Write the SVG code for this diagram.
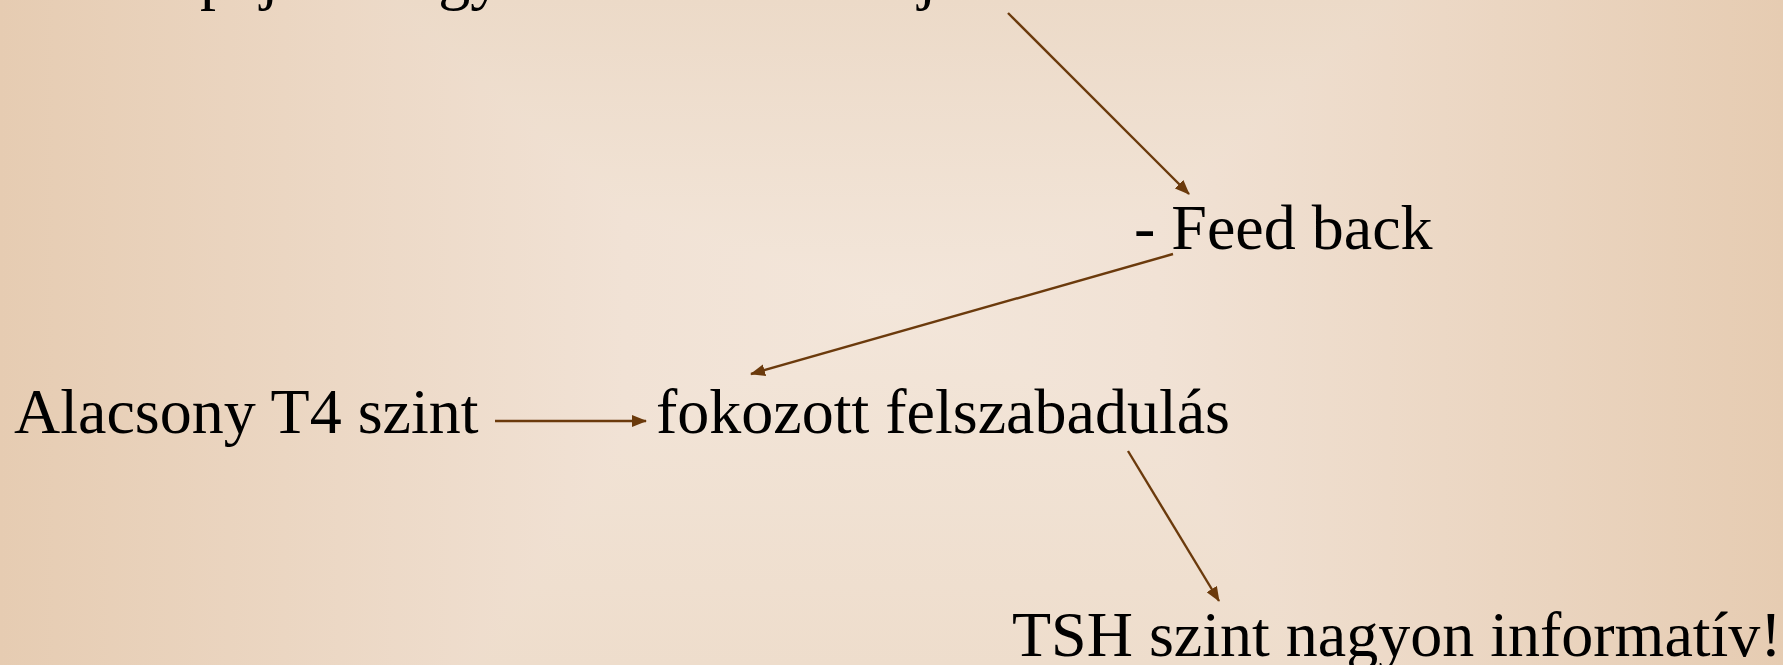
<svg xmlns="http://www.w3.org/2000/svg" width="1783" height="665" viewBox="0 0 1783 665">
  <style>
    .lbl { font-family: "Liberation Serif", "Times New Roman", serif; font-size: 64px; fill: #000; }
    .conn { stroke: #6B3A0C; stroke-width: 2.4; fill: none; marker-end: url(#arrow); }
  </style>
  <defs>
    <linearGradient id="bgH" x1="0" y1="0" x2="1" y2="0">
      <stop offset="0" stop-color="#E6CCB2"/>
      <stop offset="0.35" stop-color="#F1E2D5"/>
      <stop offset="0.5" stop-color="#F3E6DA"/>
      <stop offset="0.65" stop-color="#F1E2D5"/>
      <stop offset="1" stop-color="#E6CCB2"/>
    </linearGradient>
    <linearGradient id="bgV" x1="0" y1="0" x2="0" y2="1">
      <stop offset="0" stop-color="#ECDAC8"/>
      <stop offset="0.45" stop-color="#F3E6DA"/>
      <stop offset="1" stop-color="#EEDDCC"/>
    </linearGradient>
    <marker id="arrow" viewBox="0 0 15 12" refX="14" refY="6" markerWidth="15" markerHeight="12" markerUnits="userSpaceOnUse" orient="auto">
      <path d="M0,0 L15,6 L0,12 z" fill="#6B3A0C"/>
    </marker>
  </defs>

  <!-- background -->
  <rect width="1783" height="665" fill="url(#bgH)"/>
  <rect width="1783" height="665" fill="url(#bgV)" style="mix-blend-mode: darken"/>

  <g id="connectors">
    <line class="conn" x1="1008" y1="13" x2="1189" y2="194"/>
    <line class="conn" x1="1173" y1="254" x2="751" y2="374"/>
    <line class="conn" x1="495" y1="421" x2="646" y2="421"/>
    <line class="conn" x1="1128" y1="451" x2="1219" y2="601"/>
  </g>

  <g id="node-top">
    <text class="lbl" x="200" y="-3">pajzsmirigy hormonok szintje</text>
  </g>
  <g id="node-feedback">
    <text class="lbl" x="1134" y="249">- Feed back</text>
  </g>
  <g id="node-alacsony">
    <text class="lbl" x="14" y="433">Alacsony T4 szint</text>
  </g>
  <g id="node-fokozott">
    <text class="lbl" x="656" y="433">fokozott felszabadulás</text>
  </g>
  <g id="node-tsh">
    <text class="lbl" x="1012" y="656">TSH szint nagyon informatív!</text>
  </g>
</svg>
